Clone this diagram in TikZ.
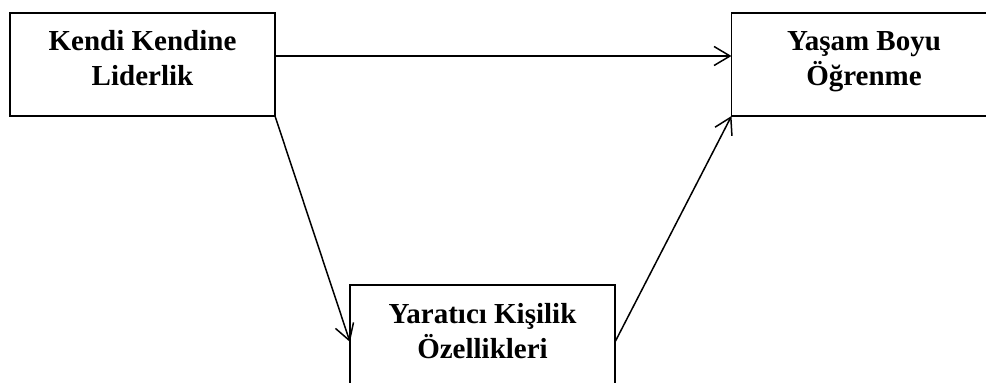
\documentclass[tikz,border=0pt]{standalone}
\usepackage{fontspec}
\setmainfont{Liberation Serif}
\usetikzlibrary{arrows.meta}
\begin{document}
\begin{tikzpicture}[x=1pt,y=-1pt,
  box/.style={draw=black,line width=1.4pt,minimum width=265pt,minimum height=103pt,inner sep=0pt,outer sep=0pt},
  lbl/.style={align=center,font=\fontsize{29}{35}\selectfont\bfseries,inner sep=0pt,anchor=base},
  conn/.style={line width=1.5pt,-{Straight Barb[length=16pt,width=19pt,line width=1.5pt]}}]
\useasboundingbox (0,0) rectangle (986,383);
\clip (0,0) rectangle (986,383);
\fill[white] (0,0) rectangle (986,383);
\node[box] (L) at (142.5,64.5) {};
\node[box] (R) at (864,64.5) {};
\node[box] (B) at (482.5,336.5) {};
\node[lbl] (Lt) at (142.5,85) {Kendi Kendine\\Liderlik};
\node[lbl] (Rt) at (864,85) {Yaşam Boyu\\Öğrenme};
\node[lbl] (Bt) at (482.5,358) {Yaratıcı Kişilik\\Özellikleri};
\draw[conn] ([yshift=8.5pt]L.east) -- ([yshift=8.5pt]R.west);
\draw[conn] (L.south east) -- ([yshift=-5.5pt]B.west);
\draw[conn] ([yshift=-5.5pt]B.east) -- (R.south west);
\end{tikzpicture}
\end{document}
